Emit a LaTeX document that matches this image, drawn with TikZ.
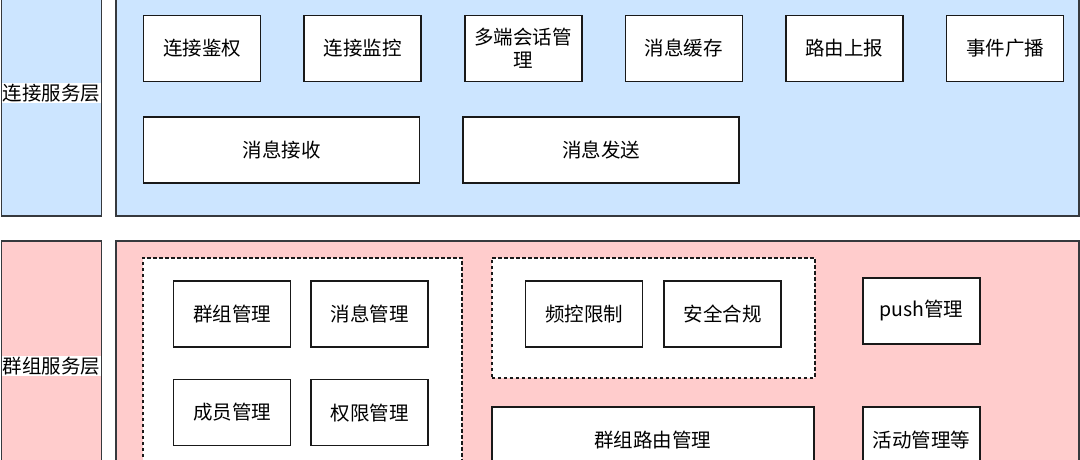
\documentclass[tikz,border=0pt]{standalone}
\usepackage{fontspec}
\setmainfont{Noto Sans CJK SC}
\usetikzlibrary{positioning}
\definecolor{connblue}{HTML}{CCE5FF}
\definecolor{grouppink}{HTML}{FFCCCC}
\definecolor{layerline}{HTML}{36393D}

\begin{document}
\begin{tikzpicture}[x=1pt, y=-1pt, node distance=42pt,
  font=\fontsize{19.5}{23.4}\selectfont,
  mod/.style={draw=black!90, rectangle, fill=white, line width=1.6pt, minimum width=117pt, minimum height=66pt, inner sep=2pt, align=center},
  layer/.style={draw=layerline, rectangle, line width=1.5pt, anchor=north west, inner sep=0pt},
  frame/.style={draw=black!90, rectangle, fill=white, line width=1.5pt, dash pattern=on 3.5pt off 2.5pt, anchor=north west, inner sep=0pt},
  tag/.style={fill=white, inner sep=1pt}]
\useasboundingbox (0,0) rectangle (1080,460);
\clip (0,0) rectangle (1080,460);

% connection service layer
\node[layer, fill=connblue, minimum width=100pt, minimum height=246pt] (connside) at (0.8,-31) {};
\node[tag] (conntag) at (connside.center) {连接服务层};
\node[layer, fill=connblue, minimum width=963pt, minimum height=246pt] (connlayer) at (115,-31) {};

\node[mod] (auth) at (202,48.5) {连接鉴权};
\node[mod, right=of auth] (monitor) {连接监控};
\node[mod, right=of monitor] (session) {多端会话管\\理};
\node[mod, right=of session] (cache) {消息缓存};
\node[mod, right=of cache] (report) {路由上报};
\node[mod, right=of report] (broadcast) {事件广播};
\node[mod, minimum width=276pt, below=34pt of auth.south west, anchor=north west] (recv) {消息接收};
\node[mod, minimum width=276pt, right=of recv] (send) {消息发送};

% group service layer
\node[layer, fill=grouppink, minimum width=100pt, minimum height=250pt] (groupside) at (0.8,240) {};
\node[tag] (grouptag) at (groupside.center) {群组服务层};
\node[layer, fill=grouppink, minimum width=963pt, minimum height=250pt] (grouplayer) at (115,240) {};
\node[frame, minimum width=319pt, minimum height=240pt] (coreframe) at (142,257) {};
\node[frame, minimum width=323pt, minimum height=120pt] (safeframe) at (491,257) {};

\node[mod] (groupmgr) at (232,314) {群组管理};
\node[mod, right=19pt of groupmgr] (msgmgr) {消息管理};
\node[mod, below=31pt of groupmgr] (membermgr) {成员管理};
\node[mod, right=19pt of membermgr] (permmgr) {权限管理};
\node[mod] (ratelimit) at (584,314) {频控限制};
\node[mod, right=20pt of ratelimit] (compliance) {安全合规};
\node[mod] (pushmgr) at (921.5,311) {push管理};
\node[mod, minimum width=322pt, anchor=north west] (routemgr) at (491,406) {群组路由管理};
\node[mod, anchor=north] (activity) at (921.5,406) {活动管理等};
\end{tikzpicture}
\end{document}
